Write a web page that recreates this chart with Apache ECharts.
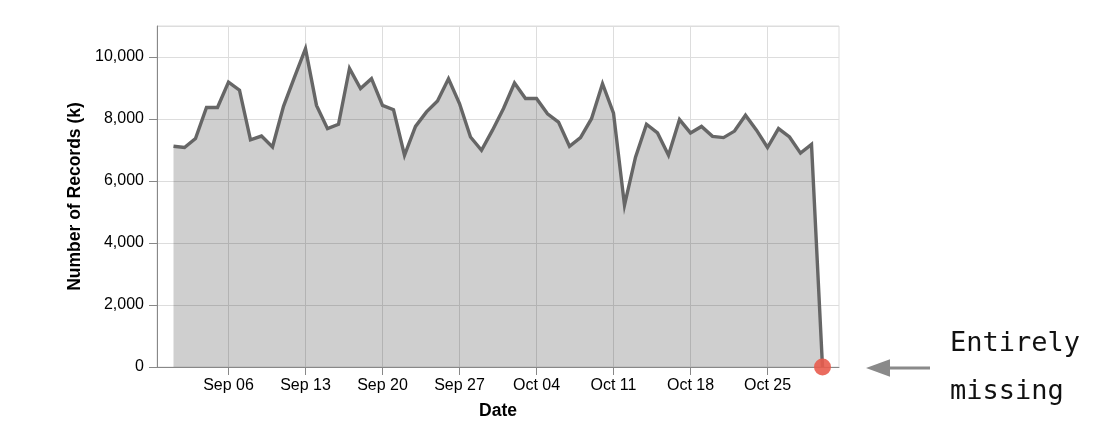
<!DOCTYPE html>
<html>
<head>
<meta charset="utf-8">
<script src="https://cdn.jsdelivr.net/npm/echarts@6/dist/echarts.min.js"></script>
<style>
  html, body { margin: 0; padding: 0; background: #fff; }
  #chart { width: 1116px; height: 444px; }
</style>
</head>
<body>
<div id="chart"></div>
<script>
// ---- data ----
const dates = [
  '2020-09-01','2020-09-02','2020-09-03','2020-09-04','2020-09-05','2020-09-06','2020-09-07','2020-09-08','2020-09-09','2020-09-10',
  '2020-09-11','2020-09-12','2020-09-13','2020-09-14','2020-09-15','2020-09-16','2020-09-17','2020-09-18','2020-09-19','2020-09-20',
  '2020-09-21','2020-09-22','2020-09-23','2020-09-24','2020-09-25','2020-09-26','2020-09-27','2020-09-28','2020-09-29','2020-09-30',
  '2020-10-01','2020-10-02','2020-10-03','2020-10-04','2020-10-05','2020-10-06','2020-10-07','2020-10-08','2020-10-09','2020-10-10',
  '2020-10-11','2020-10-12','2020-10-13','2020-10-14','2020-10-15','2020-10-16','2020-10-17','2020-10-18','2020-10-19','2020-10-20',
  '2020-10-21','2020-10-22','2020-10-23','2020-10-24','2020-10-25','2020-10-26','2020-10-27','2020-10-28','2020-10-29','2020-10-30'
];
const records = [
  7120, 7080, 7370, 8370, 8370, 9190, 8930, 7330, 7450, 7100,
  8410, 9350, 10270, 8440, 7690, 7830, 9630, 8980, 9300, 8440,
  8300, 6830, 7760, 8230, 8580, 9300, 8500, 7420, 6990, 7640,
  8340, 9160, 8660, 8660, 8170, 7900, 7120, 7400, 8010, 9140,
  8190, 5220, 6770, 7830, 7550, 6830, 7980, 7550, 7760, 7440,
  7400, 7610, 8120, 7640, 7080, 7690, 7420, 6900, 7180, 0
];
const missingDates = ['2020-10-30'];
const missingValues = [0];
const xTickDates = ['2020-09-06','2020-09-13','2020-09-20','2020-09-27','2020-10-04','2020-10-11','2020-10-18','2020-10-25'];
const xDomain = ['2020-08-30T12:00:00Z', '2020-10-31T12:00:00Z'];
const monthNames = ['Jan','Feb','Mar','Apr','May','Jun','Jul','Aug','Sep','Oct','Nov','Dec'];

function ts(s) { return s.length === 10 ? Date.parse(s + 'T00:00:00Z') : Date.parse(s); }
function fmtDate(v) {
  const d = new Date(v);
  return monthNames[d.getUTCMonth()] + ' ' + String(d.getUTCDate()).padStart(2, '0');
}
function fmtNum(v) { return String(Math.round(v)).replace(/\B(?=(\d{3})+(?!\d))/g, ','); }

const FONT = "'Liberation Sans', Arial, Helvetica, sans-serif";
const chart = echarts.init(document.getElementById('chart'), null, { renderer: 'canvas' });

chart.setOption({
  animation: false,
  backgroundColor: '#ffffff',
  grid: {
    left: 157, right: 277, top: 26, bottom: 77,
    show: true, borderColor: '#dddddd', borderWidth: 1, backgroundColor: 'transparent'
  },
  xAxis: {
    type: 'value',
    min: ts(xDomain[0]),
    max: ts(xDomain[1]),
    name: 'Date',
    nameLocation: 'middle',
    nameGap: 35,
    nameTextStyle: { fontFamily: FONT, fontSize: 17.5, fontWeight: 'bold', color: '#000' },
    axisLine: { show: true, onZero: false, lineStyle: { color: '#888888', width: 1 } },
    axisTick: { show: true, length: 8, lineStyle: { color: '#888888' }, customValues: xTickDates.map(ts) },
    axisLabel: {
      customValues: xTickDates.map(ts),
      formatter: fmtDate,
      fontFamily: FONT, fontSize: 16, color: '#000', margin: 11, hideOverlap: false
    },
    splitLine: { show: true, lineStyle: { color: '#dddddd', width: 1 } }
  },
  yAxis: {
    type: 'value',
    min: 0, max: 11000, interval: 2000,
    name: 'Number of Records (k)',
    nameLocation: 'middle',
    nameGap: 68,
    nameRotate: 90,
    nameTextStyle: { fontFamily: FONT, fontSize: 17.5, fontWeight: 'bold', color: '#000' },
    axisLine: { show: true, lineStyle: { color: '#888888', width: 1 } },
    axisTick: { show: true, length: 8, lineStyle: { color: '#888888' } },
    axisLabel: {
      formatter: fmtNum,
      fontFamily: FONT, fontSize: 16, color: '#000', margin: 13, showMaxLabel: false
    },
    splitLine: { show: true, lineStyle: { color: '#dddddd', width: 1 } }
  },
  series: [
    {
      type: 'line',
      data: dates.map((d, i) => [ts(d), records[i]]),
      showSymbol: false,
      symbol: 'none',
      lineStyle: { color: '#666666', width: 3.4, join: 'miter' },
      areaStyle: { color: 'rgba(0,0,0,0.19)', opacity: 1 },
      z: 3
    },
    {
      type: 'scatter',
      data: missingDates.map((d, i) => [ts(d), missingValues[i]]),
      symbol: 'circle',
      symbolSize: 17,
      clip: false,
      itemStyle: { color: 'rgb(232,92,78)', opacity: 0.9 },
      z: 5
    }
  ],
  graphic: [
    {
      type: 'line', z: 10,
      shape: { x1: 930, y1: 368, x2: 886, y2: 368 },
      style: { stroke: '#8a8a8a', lineWidth: 3 }
    },
    {
      type: 'polygon', z: 10,
      shape: { points: [[866, 368], [890, 359.3], [890, 376.7]] },
      style: { fill: '#8a8a8a' }
    },
    {
      type: 'text', z: 10, x: 950, y: 344,
      style: { text: 'Entirely', font: "27px 'DejaVu Sans Mono', monospace", fill: '#111', verticalAlign: 'middle', align: 'left' }
    },
    {
      type: 'text', z: 10, x: 950, y: 392,
      style: { text: 'missing', font: "27px 'DejaVu Sans Mono', monospace", fill: '#111', verticalAlign: 'middle', align: 'left' }
    }
  ]
});
</script>
</body>
</html>
